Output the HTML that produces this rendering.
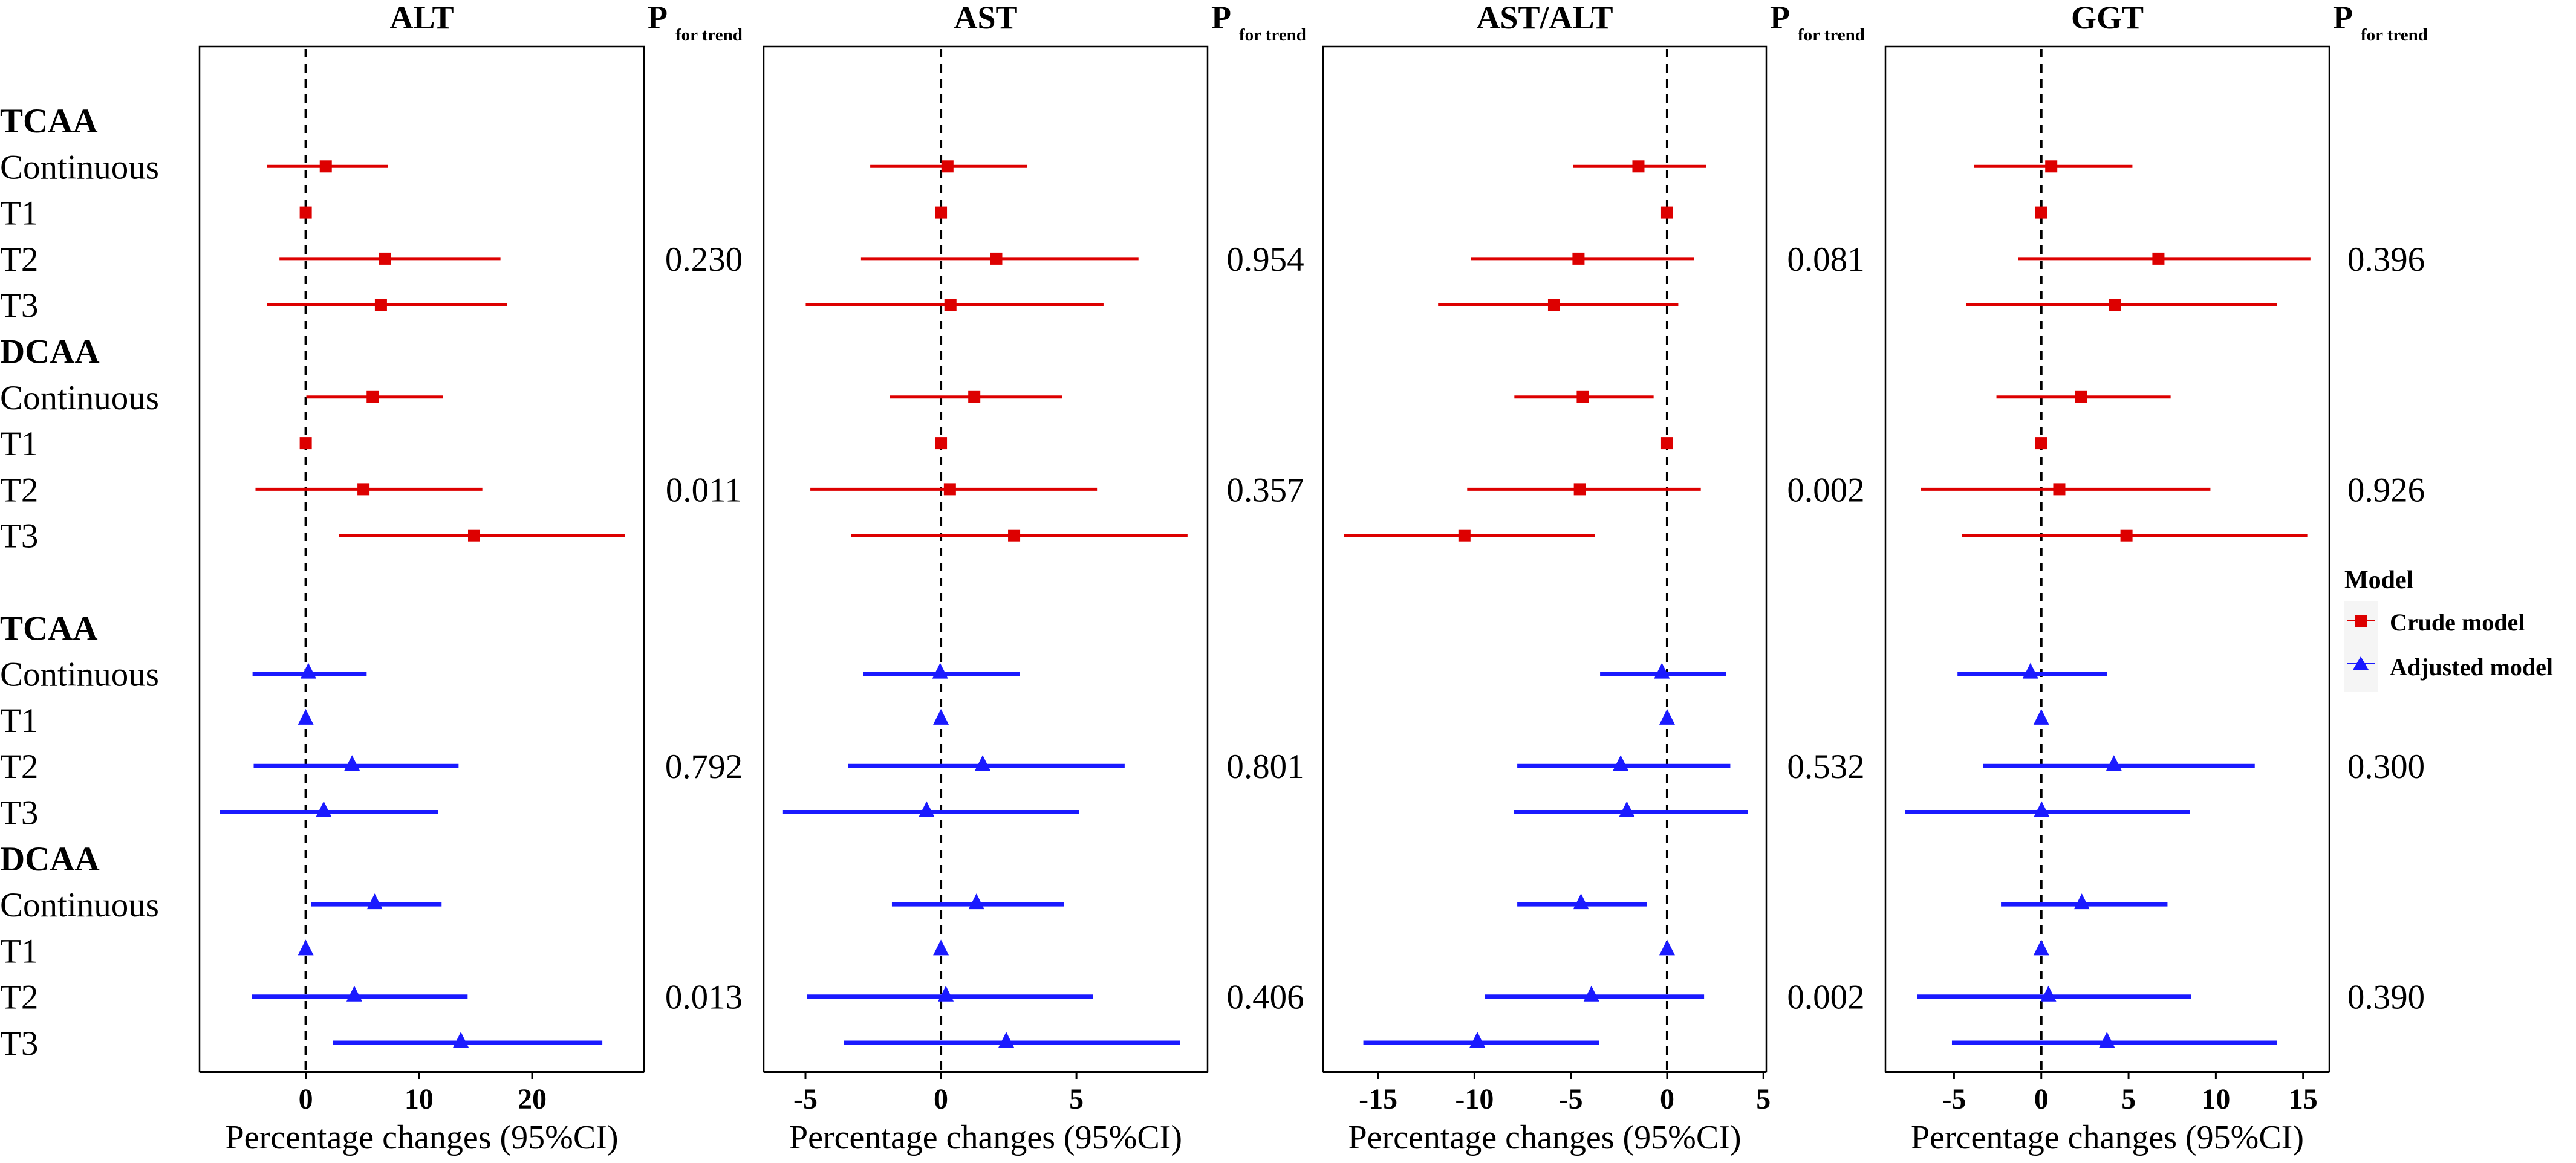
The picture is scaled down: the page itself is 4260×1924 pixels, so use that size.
<!DOCTYPE html>
<html><head><meta charset="utf-8"><style>
html,body{margin:0;padding:0;background:#fff}
svg text{font-family:"Liberation Serif",serif}
</style></head><body>
<svg id="chart" xmlns="http://www.w3.org/2000/svg" width="4260" height="1919" viewBox="0 0 4260 1919"></svg>
<script>
const rowLabels = ["TCAA","Continuous","T1","T2","T3","DCAA","Continuous","T1","T2","T3","","TCAA","Continuous","T1","T2","T3","DCAA","Continuous","T1","T2","T3"];
const headerRows = [0,5,11,16];
const panelTitles = ["ALT","AST","AST/ALT","GGT"];
const dataRows = [1,2,3,4,6,7,8,9,12,13,14,15,17,18,19,20];
const altEst = [1.77,0,6.97,6.64,5.91,0,5.10,14.87,0.23,0,4.09,1.59,6.09,0,4.29,13.7];
const altLo  = [-3.43,0,-2.32,-3.43,0.05,0,-4.44,2.95,-4.7,0,-4.6,-7.6,0.48,0,-4.77,2.42];
const altHi  = [7.25,0,17.2,17.8,12.1,0,15.6,28.2,5.38,0,13.5,11.7,12.0,0,14.3,26.2];
const astEst = [0.24,0,2.04,0.35,1.23,0,0.33,2.70,-0.03,0,1.54,-0.53,1.31,0,0.18,2.41];
const astLo  = [-2.61,0,-2.95,-4.99,-1.89,0,-4.82,-3.32,-2.88,0,-3.42,-5.83,-1.81,0,-4.94,-3.58];
const astHi  = [3.19,0,7.29,6.0,4.47,0,5.76,9.10,2.92,0,6.78,5.09,4.54,0,5.61,8.82];
const ratEst = [-1.49,0,-4.60,-5.87,-4.38,0,-4.53,-10.52,-0.27,0,-2.41,-2.09,-4.47,0,-3.93,-9.85];
const ratLo  = [-4.88,0,-10.19,-11.89,-7.93,0,-10.38,-16.79,-3.48,0,-7.78,-7.96,-7.78,0,-9.45,-15.77];
const ratHi  = [2.03,0,1.39,0.58,-0.70,0,1.75,-3.74,3.06,0,3.28,4.19,-1.04,0,1.92,-3.52];
const ggtEst = [0.57,0,6.71,4.22,2.29,0,1.03,4.88,-0.62,0,4.16,0.02,2.32,0,0.41,3.76];
const ggtLo  = [-3.86,0,-1.31,-4.29,-2.57,0,-6.91,-4.55,-4.80,0,-3.32,-7.79,-2.31,0,-7.12,-5.12];
const ggtHi  = [5.22,0,15.42,13.52,7.41,0,9.69,15.24,3.75,0,12.23,8.51,7.23,0,8.59,13.52];
const pValues = [["0.230","0.011","0.792","0.013"],["0.954","0.357","0.801","0.406"],["0.081","0.002","0.532","0.002"],["0.396","0.926","0.300","0.390"]];
const pRows = [3,8,14,19];
const ticksALT = [0,10,20];
const ticksAST = [-5,0,5];
const ticksRAT = [-15,-10,-5,0,5];
const ticksGGT = [-5,0,5,10,15];
const domains = [[-9.38,29.88],[-6.54,9.84],[-17.86,5.15],[-8.93,16.5]];

const NS="http://www.w3.org/2000/svg";
const svg=document.getElementById('chart');
function mk(tag,attrs,parent){const e=document.createElementNS(NS,tag);for(const k in attrs)e.setAttribute(k,attrs[k]);(parent||svg).appendChild(e);return e;}
function txt(s,attrs,parent){const e=mk('text',attrs,parent);e.textContent=s;return e;}

const panels=[{l:330,r:1065},{l:1263,r:1997},{l:2188,r:2921},{l:3118,r:3852}];
const plotTop=77,plotBottom=1773;
const yRow=i=>199+76.3*i;
const series=[[altEst,altLo,altHi,ticksALT],[astEst,astLo,astHi,ticksAST],[ratEst,ratLo,ratHi,ticksRAT],[ggtEst,ggtLo,ggtHi,ticksGGT]];
const RED="#dd0000",BLUE="#1a1aff";

rowLabels.forEach((s,i)=>{
  if(!s)return;
  const bold=headerRows.includes(i);
  const t=txt(s,{x:0,y:yRow(i)+20,'font-size':57,'font-weight':bold?'bold':'normal',fill:'#000'});
  
  
});

panels.forEach((p,pi)=>{
  const [d0,d1]=domains[pi];
  const x=v=>p.l+(v-d0)/(d1-d0)*(p.r-p.l);
  const g=mk('g',{});
  
  
  const tt=txt(panelTitles[pi],{x:(p.l+p.r)/2,y:47,'text-anchor':'middle','font-size':54,'font-weight':'bold'},g);
  
  
  const box=mk('rect',{x:p.l,y:plotTop,width:p.r-p.l,height:plotBottom-plotTop,fill:'none',stroke:'#000','stroke-width':2.5},g);
  
  
  const ax=mk('line',{x1:p.l,x2:p.r,y1:plotBottom,y2:plotBottom,stroke:'#000','stroke-width':4},g);
  
  
  const ref=mk('line',{x1:x(0),x2:x(0),y1:plotTop+4,y2:plotBottom-2,stroke:'#000','stroke-width':4,'stroke-dasharray':'14 11'},g);
  
  
  const [est,lo,hi,ticks]=series[pi];
  ticks.forEach(v=>{
    const tk=mk('line',{x1:x(v),x2:x(v),y1:plotBottom,y2:plotBottom+12,stroke:'#000','stroke-width':3},g);
    
    
    const tl=txt(String(v),{x:x(v),y:1834,'text-anchor':'middle','font-size':48,'font-weight':'bold'},g);
    
    
  });
  const at=txt('Percentage changes (95%CI)',{x:(p.l+p.r)/2,y:1900,'text-anchor':'middle','font-size':56},g);
  
  
  dataRows.forEach((r,k)=>{
    const crude=k<8, col=crude?RED:BLUE, y=yRow(r);
    if(hi[k]!==lo[k]){
      const ln=mk('line',{x1:x(lo[k]),x2:x(hi[k]),y1:y,y2:y,stroke:col,'stroke-width':crude?5:7},g);
      
      
    }
    const cx=x(est[k]);
    let m;
    if(crude){ m=mk('rect',{x:cx-10,y:y-10,width:20,height:20,fill:col},g); }
    else { m=mk('polygon',{points:`${cx},${y-18} ${cx-13},${y+8} ${cx+13},${y+8}`,fill:col},g); }
    
    
  });
  const px=p.r+6;
  const ph=txt('P',{x:px,y:47,'font-size':54,'font-weight':'bold'},g);
  
  
  const ps=txt('for trend',{x:px+46,y:67,'font-size':29,'font-weight':'bold'},g);
  
  
  const colC = pi<3 ? (p.r+panels[pi+1].l)/2 : p.r+94;
  pValues[pi].forEach((s,j)=>{
    const pv=txt(s,{x:colC,y:yRow(pRows[j])+20,'text-anchor':'middle','font-size':57},g);
    
    
  });
});

const lg=mk('g',{});


const lt=txt('Model',{x:3877,y:973,'font-size':42,'font-weight':'bold'},lg);


mk('rect',{x:3876,y:995,width:57,height:149,fill:'#f5f5f5'},lg);
const e1=mk('g',{},lg);


mk('line',{x1:3881,x2:3927,y1:1027,y2:1027,stroke:RED,'stroke-width':2},e1);
mk('rect',{x:3895,y:1018,width:19,height:19,fill:RED},e1);
txt('Crude model',{x:3952,y:1043,'font-size':40,'font-weight':'bold'},e1);
const e2=mk('g',{},lg);


mk('line',{x1:3881,x2:3927,y1:1098,y2:1098,stroke:BLUE,'stroke-width':2},e2);
mk('polygon',{points:'3904,1086 3891,1108 3917,1108',fill:BLUE},e2);
txt('Adjusted model',{x:3952,y:1117,'font-size':40,'font-weight':'bold'},e2);
</script>
</body></html>
